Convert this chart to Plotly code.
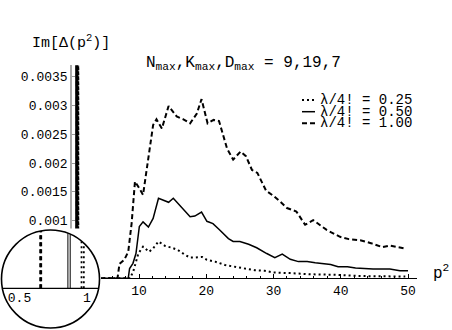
import numpy as np
import plotly.graph_objects as go

# ---------------- data ----------------
SERIES_NAMES = ["λ/4! = 0.25", "λ/4! = 0.50", "λ/4! = 1.00"]

# narrow (off-scale) peaks at low p^2, one per coupling
SPIKE_P = [0.968, 0.867, 0.657]     # peak position in p^2
SPIKE_W = [0.017, 0.017, 0.005]     # peak width in p^2
SPIKE_H = 0.05                      # off-scale height

# continuum part, p^2 and Im[Delta] in units of 1e-3
P_025 = [8.7, 9.2, 9.9, 10.6, 11.5, 12.1, 12.9, 13.9, 14.9, 15.8, 16.8, 17.6, 18.3,
         19.4, 20.1, 21.3, 22.8, 24.3, 25.8, 27.2, 28.7, 30.0, 32.5, 35.4, 39.4,
         42.6, 46.0, 49.6]
V_025 = [0.0, 0.14, 0.43, 0.55, 0.46, 0.52, 0.64, 0.56, 0.53, 0.49, 0.41, 0.36, 0.36,
         0.37, 0.32, 0.29, 0.23, 0.20, 0.17, 0.14, 0.13, 0.10, 0.09, 0.07, 0.06,
         0.04, 0.035, 0.03]

P_050 = [8.4, 8.6, 9.1, 9.55, 10.05, 10.6, 11.4, 12.1, 12.9, 13.6, 14.4, 15.1, 16.4,
         17.6, 18.3, 19.3, 20.1, 21.0, 22.0, 23.3, 24.0, 25.0, 26.3, 27.5, 29.0,
         30.2, 31.3, 32.5, 33.7, 35.0, 36.2, 37.4, 38.5, 39.6, 41.0, 42.2, 43.4,
         44.8, 47.3, 48.8, 50.0]
V_050 = [0.0, 0.17, 0.26, 0.43, 0.90, 0.98, 0.89, 1.04, 1.39, 1.36, 1.32, 1.39, 1.22,
         1.07, 1.08, 1.15, 0.99, 0.95, 0.84, 0.69, 0.64, 0.64, 0.59, 0.53, 0.43,
         0.36, 0.42, 0.33, 0.29, 0.29, 0.27, 0.25, 0.24, 0.20, 0.20, 0.18, 0.17,
         0.16, 0.16, 0.13, 0.13]

P_100 = [6.8, 7.1, 7.8, 8.4, 8.9, 9.4, 9.9, 10.6, 12.1, 12.6, 13.4, 14.4, 15.6, 16.6,
         17.6, 18.6, 19.3, 20.2, 21.1, 21.9, 23.1, 24.0, 25.1, 25.9, 26.8, 27.6,
         28.9, 30.0, 31.1, 32.0, 33.4, 34.7, 35.9, 37.9, 39.9, 41.2, 42.9, 44.5,
         46.2, 47.3, 49.4]
V_100 = [0.0, 0.25, 0.32, 0.46, 0.95, 1.68, 1.59, 1.45, 2.66, 2.76, 2.60, 2.99, 2.81, 2.76,
         2.69, 2.86, 3.11, 2.69, 2.75, 2.73, 2.25, 2.06, 2.20, 2.12, 1.88, 1.83,
         1.52, 1.43, 1.32, 1.22, 1.16, 0.93, 1.01, 0.84, 0.72, 0.68, 0.66, 0.61,
         0.54, 0.57, 0.52]

CONT_P = [P_025, P_050, P_100]
CONT_V = [V_025, V_050, V_100]

Y_TICKS = [0.001, 0.0015, 0.002, 0.0025, 0.003, 0.0035]
Y_TICKTEXT = ["0.001", "0.0015", "0.002", "0.0025", "0.003", "0.0035"]
X_TICKS = [10, 20, 30, 40, 50]
INSET_TICKS = [0.5, 1.0]
INSET_TICKTEXT = ["0.5", "1"]

# ---------------- styles / layout geometry ----------------
W, H = 452, 330
FONT = "Liberation Mono, Courier New, monospace"
STYLES = [dict(color="black", width=2.0, dash="2px,3px"),
          dict(color="black", width=1.5, dash="solid"),
          dict(color="black", width=2.0, dash="5px,3px")]
INSET_STYLES = [dict(color="black", width=1.8, dash="2px,3px"),
                dict(color="black", width=1.0, dash="solid"),
                dict(color="black", width=2.2, dash="4px,3px")]


def fx(px):
    return px / W


def fy(py):
    return 1 - py / H


# main frame in pixels
M_X0, M_X1 = 71.75, 417.0          # p^2 = 0 ... X_MAX
M_Y0, M_Y1 = 278.3, 65.2           # 0 ... Y_MAX
X_PER = 6.725                      # px per unit p^2
Y_PER = 57600.0                    # px per unit Im
X_MAX = (M_X1 - M_X0) / X_PER
Y_MAX = (M_Y0 - M_Y1) / Y_PER

# inset (magnifier) geometry in pixels
C_X, C_Y, C_R = 50.5, 279.0, 49.0
I_X0, I_X1 = 0.0, 101.0
I_YT, I_YB = 228.5, 329.5
I_AX = 288.3                       # pixel row of inset axis
I_P05, I_PER = 19.5, 135.0          # pixel of p^2=0.5, px per unit


def ip2x(px):
    return 0.5 + (px - I_P05) / I_PER


def ipx(p):
    return I_P05 + I_PER * (p - 0.5)


def ipy2v(py):
    return (I_AX - py) / Y_PER


fig = go.Figure()

# ---------- main plot ----------
for name, sp, sw, cp, cv, st in zip(SERIES_NAMES, SPIKE_P, SPIKE_W, CONT_P, CONT_V, STYLES):
    xs = [sp - sw / 2, sp, sp + sw / 2] + list(cp)
    ys = [0.0, SPIKE_H, 0.0] + [v * 1e-3 for v in cv]
    fig.add_trace(go.Scatter(x=xs, y=ys, mode="lines", line=st, name=name,
                             showlegend=False, hoverinfo="skip", xaxis="x", yaxis="y"))

# ---------- inset: peaks clipped to the circle ----------
for sp, sw, st in zip(SPIKE_P, SPIKE_W, INSET_STYLES):
    xs, ys = [], []
    for xp in (sp - sw / 2, sp + sw / 2):
        dx = ipx(xp) - C_X
        top = ipy2v(C_Y - np.sqrt(C_R ** 2 - dx ** 2))
        xs += [xp, xp, None]
        ys += [0.0, top, None]
    fig.add_trace(go.Scatter(x=xs, y=ys, mode="lines", line=st, showlegend=False,
                             hoverinfo="skip", xaxis="x2", yaxis="y2"))

# inset axis line (chord of the circle)
half = np.sqrt(C_R ** 2 - (I_AX - C_Y) ** 2)
fig.add_trace(go.Scatter(x=[ip2x(C_X - half), ip2x(C_X + half)], y=[0, 0], mode="lines",
                         line=dict(color="black", width=1.3), showlegend=False,
                         hoverinfo="skip", xaxis="x2", yaxis="y2"))

shapes = [
    dict(type="circle", xref="x2", yref="y2", xsizemode="pixel", ysizemode="pixel",
         xanchor=ip2x(C_X), yanchor=ipy2v(C_Y), x0=-C_R, x1=C_R, y0=-C_R, y1=C_R,
         fillcolor="white", line=dict(color="black", width=1.6), layer="below"),
]

# ---------- legend (manual, short samples) ----------
LEG_ROWS = [100.0, 111.7, 123.3]
annotations = []
for name, st, ry in zip(SERIES_NAMES, STYLES, LEG_ROWS):
    shapes.append(dict(type="line", xref="paper", yref="paper", x0=fx(302), x1=fx(315),
                       y0=fy(ry), y1=fy(ry), line=st, layer="above"))
    annotations.append(dict(text=name, x=fx(319), y=fy(ry), xref="paper", yref="paper",
                            xanchor="left", yanchor="middle", showarrow=False, borderpad=0,
                            font=dict(family=FONT, size=14, color="black")))

annotations += [
    dict(text="Im[Δ(p<sup>2</sup>)]", x=fx(31), y=fy(42), xref="paper", yref="paper",
         xanchor="left", yanchor="middle", showarrow=False, borderpad=0,
         font=dict(family=FONT, size=15, color="black")),
    dict(text="N<sub>max</sub>,K<sub>max</sub>,D<sub>max</sub> = 9,19,7", x=fx(145), y=fy(63),
         xref="paper", yref="paper", xanchor="left", yanchor="middle", showarrow=False,
         borderpad=0, font=dict(family=FONT, size=16, color="black")),
    dict(text="p<sup>2</sup>", x=fx(432), y=fy(272), xref="paper", yref="paper",
         xanchor="left", yanchor="middle", showarrow=False, borderpad=0,
         font=dict(family=FONT, size=16, color="black")),
]

tickfont = dict(family=FONT, size=13, color="black")

fig.update_layout(
    width=W, height=H,
    margin=dict(l=0, r=0, t=0, b=0, pad=0, autoexpand=False),
    paper_bgcolor="white", plot_bgcolor="white",
    showlegend=False, hovermode=False,
    shapes=shapes, annotations=annotations,
    xaxis=dict(domain=[fx(M_X0), fx(M_X1)], range=[0, X_MAX], anchor="y",
               showgrid=False, zeroline=False, showline=True, linecolor="black", linewidth=1,
               tickmode="array", tickvals=X_TICKS, ticks="inside", ticklen=4,
               tickcolor="black", tickfont=tickfont, automargin=False,
               minor=dict(dtick=2, ticks="inside", ticklen=2, tickcolor="black")),
    yaxis=dict(domain=[fy(M_Y0), fy(M_Y1)], range=[0, Y_MAX], anchor="x",
               showgrid=False, zeroline=False, showline=True, linecolor="#aaaaaa", linewidth=1.5,
               tickmode="array", tickvals=Y_TICKS, ticktext=Y_TICKTEXT, ticks="inside",
               ticklen=3, tickcolor="#999999", tickfont=tickfont, automargin=False),
    xaxis2=dict(domain=[fx(I_X0), fx(I_X1)], range=[ip2x(I_X0), ip2x(I_X1)],
                anchor="free", position=fy(I_AX), showgrid=False, zeroline=False,
                showline=False, tickmode="array", tickvals=INSET_TICKS,
                ticktext=INSET_TICKTEXT, ticks="", tickfont=tickfont, automargin=False),
    yaxis2=dict(domain=[fy(I_YB), fy(I_YT)], range=[ipy2v(I_YB), ipy2v(I_YT)], anchor="x2",
                showgrid=False, zeroline=False, showline=False, showticklabels=False,
                ticks="", automargin=False),
)

fig.write_html("out.html", config={"displayModeBar": False, "staticPlot": True},
               post_script="document.body.style.margin='0px';document.body.style.overflow='hidden';")
